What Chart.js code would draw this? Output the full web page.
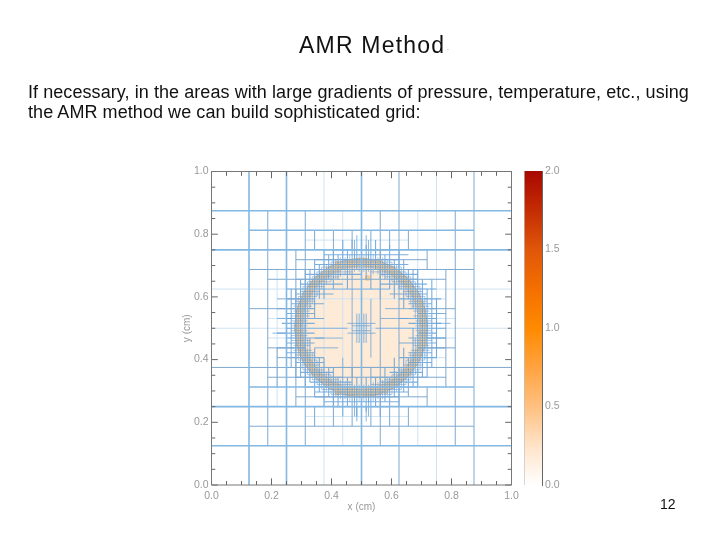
<!DOCTYPE html>
<html>
<head>
<meta charset="utf-8">
<script src="https://cdn.jsdelivr.net/npm/chart.js@4"></script>
<style>
body{margin:0;background:#fff;font-family:"Liberation Sans",Arial,sans-serif;color:#111}
canvas{position:absolute;filter:blur(.45px)}
.t{position:absolute;white-space:nowrap}
#title{left:299px;top:32px;font-size:23px;letter-spacing:1.2px}
#dot{left:447px;top:44px;font-size:7px;color:#777}
#l1{left:28px;top:82px;font-size:18px;letter-spacing:.07px}
#l2{left:28px;top:102px;font-size:18px;letter-spacing:.07px}
#pg{left:660px;top:496px;font-size:14px}
</style>
</head>
<body>
<canvas id="amr" width="720" height="540" style="left:0;top:0"></canvas>
<canvas id="bar" width="50" height="334" style="left:524px;top:161px"></canvas>
<div class="t" id="title">AMR Method</div>
<div class="t" id="dot">.</div>
<div class="t" id="l1">If necessary, in the areas with large gradients of pressure, temperature, etc., using</div>
<div class="t" id="l2">the AMR method we can build sophisticated grid:</div>
<div class="t" id="pg">12</div>
<script>
// axis ticks
const majorTicks = [0, 0.2, 0.4, 0.6, 0.8, 1];
const minorTicks = [0.05, 0.1, 0.15, 0.25, 0.3, 0.35, 0.45, 0.5, 0.55, 0.65, 0.7, 0.75, 0.85, 0.9, 0.95];
const barStops = [0, 0.25, 0.5, 0.75, 1, 1.25, 1.5, 1.75, 2];
const barColors = ['#ffffff', '#ffe3c8', '#ffc080', '#ffa340', '#ff8a00', '#f46f00', '#e0560a', '#c42c04', '#a80800'];

// disk outline, cm
const diskX = [.7205, .713, .691, .655, .6095, .556, .4985, .441, .3875, .3415, .306, .284, .2765, .284, .306, .3415, .3875, .441, .4985, .556, .6095, .655, .691, .713, .7205];
const diskY = [.502, .559, .613, .659, .694, .716, .724, .716, .694, .659, .613, .559, .502, .445, .391, .345, .31, .288, .28, .288, .31, .345, .391, .445, .502];
const coreX = [.6935, .687, .6675, .636, .596, .549, .4985, .448, .401, .36, .3295, .31, .3035, .31, .3295, .36, .401, .448, .4985, .549, .596, .636, .6675, .687, .6935];
const coreY = [.502, .552, .5995, .64, .671, .69, .697, .69, .671, .64, .5995, .552, .502, .452, .4045, .364, .333, .314, .307, .314, .333, .364, .4045, .452, .502];
const spotX = [.31, .295, .345, .42, .46, .56, .62, .66, .7, .71, .66, .58, .5, .42, .35, .3, .52];
const spotY = [.6, .49, .64, .705, .71, .71, .68, .64, .58, .45, .36, .3, .29, .295, .35, .42, .66];

// grid lines in 1/64 cm: [position, from, to]
const wideV = [[8, 0, 64], [16, 0, 64], [32, 0, 64]];
const wideH = [[8, 0, 64], [16, 0, 64], [48, 0, 64], [56, 0, 64], [52, 8, 56], [20, 8, 56]];
const darkV = [[40, 0, 64], [56, 0, 64], [12, 8, 56], [20, 8, 56], [36, 8, 56], [52, 8, 56], [18, 16, 48], [50, 20, 44], [22, 48, 52], [22, 12, 16], [26, 12, 20], [26, 44, 52], [30, 12, 16], [30, 48, 52], [34, 12, 16], [34, 48, 52], [38, 12, 16], [38, 48, 52], [42, 12, 16], [42, 48, 52], [46, 16, 20], [46, 44, 48], [14, 20, 28]];
const darkH = [[24, 0, 64], [44, 8, 56], [12, 8, 56], [36, 8, 20], [36, 44, 52], [28, 12, 20], [28, 44, 52], [22, 12, 50], [42, 12, 50], [18, 18, 46], [46, 18, 46], [26, 14, 20], [38, 14, 20]];
const faintV = [[24, 0, 64], [48, 0, 64], [28, 8, 56], [44, 8, 56], [14, 16, 44], [16, 16, 48]];
const faintH = [[40, 0, 64], [32, 0, 64], [50, 20, 42], [14, 20, 42], [38, 16, 50], [26, 44, 50], [30, 12, 18], [34, 12, 18], [30, 46, 52], [34, 46, 52]];
// fine cells round the disk, drawn both ways: [position, a, b, c, d]
const fineSpans = [
  [16, 26, 38, 38, 38], [17, 24, 40, 40, 40], [18, 22, 40, 40, 40], [19, 22, 42, 42, 42], [20, 20, 44, 44, 44], [21, 21, 30, 36, 44],
  [22, 18, 28, 34, 46], [23, 19, 26, 38, 45], [24, 16, 26, 38, 48], [25, 18, 24, 42, 47], [26, 16, 24, 40, 48], [27, 16, 22, 42, 47],
  [28, 14, 20, 44, 50], [29, 16, 22, 40, 48], [30, 16, 24, 42, 50], [31, 14, 22, 44, 48], [32, 16, 20, 44, 50], [33, 15, 22, 42, 49],
  [34, 16, 24, 40, 48], [35, 16, 22, 44, 50], [36, 14, 22, 42, 48], [37, 17, 24, 42, 47], [38, 16, 22, 40, 49], [39, 18, 26, 38, 46],
  [40, 16, 24, 40, 48], [41, 19, 28, 36, 46], [42, 18, 26, 38, 44], [43, 20, 32, 36, 44], [44, 20, 44, 44, 44], [45, 22, 42, 42, 42],
  [46, 22, 40, 40, 40], [47, 24, 42, 42, 42], [48, 26, 38, 38, 38]
];
const halfSpans = [
  [18.5, 25.5, 38.5, 38.5, 38.5], [19.5, 23.5, 40.5, 40.5, 40.5], [20.5, 22.5, 30, 34, 41.5], [21.5, 21.5, 27, 37, 42.5],
  [22.5, 20.5, 25.5, 38.5, 43.5], [23.5, 19.5, 24, 40, 44.5], [24.5, 19, 23, 41, 45], [25.5, 18.5, 22.5, 41.5, 45.5],
  [26.5, 18, 22, 42, 46], [27.5, 17.5, 21.5, 42.5, 46.5], [28.5, 17.5, 21, 43, 46.5], [29.5, 17, 21, 43, 47],
  [30.5, 17, 20.5, 43.5, 47], [31.5, 17, 20.5, 43.5, 47], [32.5, 17, 20.5, 43.5, 47], [33.5, 17, 20.5, 43.5, 47],
  [34.5, 17, 21, 43, 47], [35.5, 17.5, 21, 43, 46.5], [36.5, 17.5, 21.5, 42.5, 46.5], [37.5, 18, 22, 42, 46],
  [38.5, 18.5, 22.5, 41.5, 45.5], [39.5, 19, 23, 41, 45], [40.5, 19.5, 24, 40, 44.5], [41.5, 20.5, 25.5, 38.5, 43.5],
  [42.5, 21.5, 27, 37, 42.5], [43.5, 22.5, 30, 34, 41.5], [44.5, 23.5, 40.5, 40.5, 40.5], [45.5, 25.5, 38.5, 38.5, 38.5]
];
// loose lines inside the disk and just outside it
const innerV = [[30, 22, 42], [32, 22, 42], [34, 26, 38], [28, 20, 26], [36, 38, 44], [31, 29, 35], [33, 29, 35], [31.5, 29, 35], [32.5, 29, 35], [30.5, 46, 50], [33.5, 46, 50], [30.5, 14, 18], [33.5, 14, 18], [31, 48, 51], [33, 48, 51], [31, 13, 16], [33, 13, 16]];
const innerH = [[32, 20, 29], [32, 35, 44], [30, 22, 28], [34, 36, 42], [28, 22, 27], [36, 37, 42], [24, 26, 40], [40, 24, 38], [31, 29, 35], [33, 29, 35], [31.5, 30, 34], [32.5, 30, 34], [30, 46, 50], [34, 14, 18], [31, 13, 16], [33, 48, 51]];

const u = 1 / 64;
const segs = list => list.flatMap(s => [{x: s[0], y: s[1]}, {x: s[2], y: s[3]}, {x: null, y: null}]);
const vLines = list => list.map(l => [l[0] * u, l[1] * u, l[0] * u, l[2] * u]);
const hLines = list => list.map(l => [l[1] * u, l[0] * u, l[2] * u, l[0] * u]);
const spanV = list => list.flatMap(l => [[l[0] * u, l[1] * u, l[0] * u, l[2] * u], [l[0] * u, l[3] * u, l[0] * u, l[4] * u]]);
const spanH = list => list.flatMap(l => [[l[1] * u, l[0] * u, l[2] * u, l[0] * u], [l[3] * u, l[0] * u, l[4] * u, l[0] * u]]);
const zip = (xs, ys) => xs.map((x, i) => ({x, y: ys[i]}));

const lineSet = (data, color, width, order) => ({type: 'scatter', data: segs(data), showLine: true, borderColor: color, borderWidth: width, pointRadius: 0, order});
const tickSegs = len => [
  ...majorTicks.flatMap(v => [[v, 0, v, len], [v, 1, v, 1 - len], [0, v, len, v], [1, v, 1 - len, v]]),
  ...minorTicks.flatMap(v => [[v, 0, v, len * .6], [v, 1, v, 1 - len * .6], [0, v, len * .6, v], [1, v, 1 - len * .6, v]])
];

new Chart(document.getElementById('amr'), {
  type: 'scatter',
  data: {datasets: [
    {data: zip(diskX, diskY), showLine: true, fill: 'shape', backgroundColor: '#f0cda2', borderColor: '#d9b48a', borderWidth: 1, pointRadius: 0, order: 20},
    {data: zip(coreX, coreY), showLine: true, fill: 'shape', backgroundColor: '#fdebd8', borderWidth: 0, pointRadius: 0, order: 19},
    {data: zip(spotX, spotY), pointRadius: 3, pointBackgroundColor: '#f6cd98', pointBorderWidth: 0, order: 18},
    lineSet([...vLines(faintV), ...hLines(faintH)], '#cfe3f2', 1, 10),
    lineSet([...spanV(halfSpans), ...spanH(halfSpans)], 'rgba(100,150,200,.5)', 1, 9),
    lineSet([...spanV(fineSpans), ...spanH(fineSpans)], 'rgba(90,155,215,.8)', 1.1, 8),
    lineSet([...vLines(innerV), ...hLines(innerH)], 'rgba(100,160,215,.75)', 1, 7),
    lineSet([...vLines(darkV), ...hLines(darkH)], '#7fa9cf', 1, 6),
    lineSet([...vLines(wideV), ...hLines(wideH)], '#82b8e2', 1.6, 5),
    Object.assign(lineSet(tickSegs(.021), '#666', 1, 2), {clip: false}),
    Object.assign(lineSet([[0, 0, 1, 0], [1, 0, 1, 1], [1, 1, 0, 1], [0, 1, 0, 0]], '#777', 1, 1), {clip: false})
  ]},
  options: {
    responsive: false, animation: false,
    layout: {padding: {left: 181.5, right: 208.5, top: 171.5, bottom: 27}},
    plugins: {legend: {display: false}, tooltip: {enabled: false}},
    scales: {
      x: {
        min: 0, max: 1, border: {display: false}, grid: {display: false, drawTicks: false},
        afterFit: s => { s.height = 28; },
        ticks: {stepSize: 0.2, color: '#999', font: {size: 10.5}, padding: 5, maxRotation: 0, callback: v => v.toFixed(1)},
        title: {display: true, text: 'x (cm)', color: '#999', font: {size: 10}, padding: 0}
      },
      y: {
        min: 0, max: 1, border: {display: false}, grid: {display: false, drawTicks: false},
        afterFit: s => { s.width = 30; },
        ticks: {stepSize: 0.2, color: '#999', font: {size: 10.5}, padding: 3, align: 'inner', callback: v => v.toFixed(1)},
        title: {display: true, text: 'y (cm)', color: '#999', font: {size: 10}, padding: 0}
      }
    }
  }
});

new Chart(document.getElementById('bar'), {
  type: 'bar',
  data: {labels: [''], datasets: [{data: [2], barPercentage: 1, categoryPercentage: 1, borderWidth: {left: 1}, borderSkipped: false, borderColor: 'rgba(120,120,120,.45)', backgroundColor: c => {
    const a = c.chart.chartArea;
    if (!a) return '#ff8a00';
    const g = c.chart.ctx.createLinearGradient(0, a.bottom, 0, a.top);
    barStops.forEach((s, i) => g.addColorStop(s / 2, barColors[i]));
    return g;
  }}]},
  options: {
    responsive: false, animation: false,
    layout: {padding: {top: 10, bottom: 10}},
    plugins: {legend: {display: false}, tooltip: {enabled: false}},
    scales: {
      x: {display: false},
      y: {
        position: 'right', min: 0, max: 2, grid: {display: false, drawTicks: false},
        border: {color: '#666'},
        afterFit: s => { s.width = 32; },
        ticks: {stepSize: 0.5, color: '#999', font: {size: 10.5}, padding: 3, align: 'inner', callback: v => v.toFixed(1)}
      }
    }
  }
});
</script>
</body>
</html>
